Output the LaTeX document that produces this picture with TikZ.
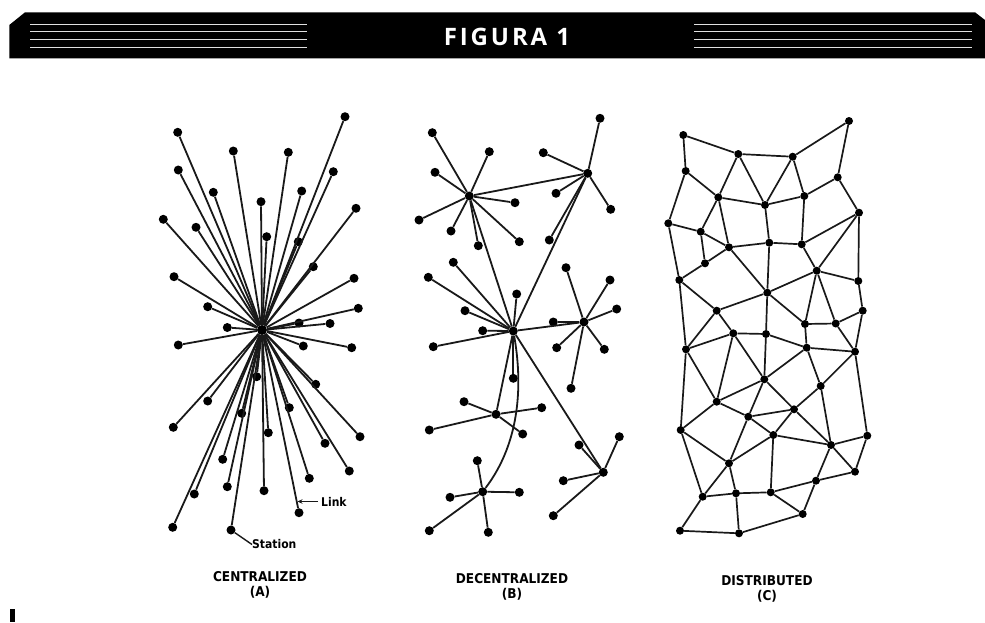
\documentclass[tikz,border=0pt]{standalone}
\usepackage{fontspec}
\usetikzlibrary{arrows.meta}
\newfontfamily\headfont[LetterSpace=12]{Open Sans}
\newfontfamily\labfont[BoldFont={DejaVu Sans Condensed Bold}]{DejaVu Sans Condensed}
\begin{document}
\begin{tikzpicture}[x=1pt,y=-1pt,
  dot/.style={circle,fill=black,inner sep=0pt,minimum size=9pt},
  cdot/.style={circle,fill=black,inner sep=0pt,minimum size=8pt},
  link/.style={draw=black!90,line width=1.8pt},
  rulerline/.style={draw=white!88!black,line width=1.3pt},
  titletext/.style={text=white,font=\headfont\bfseries\fontsize{24}{28}\selectfont},
  captext/.style={font=\labfont\bfseries\fontsize{13.5}{15}\selectfont,inner sep=0pt},
  lbltext/.style={font=\labfont\bfseries\fontsize{12}{14}\selectfont,inner sep=0pt}]
\useasboundingbox (0,0) rectangle (985,622);

% ---------- banner ----------
\fill[black] (9.3,25) -- (25,12.3) -- (975,12.3) -- (985,20) -- (985,58.3) -- (9.3,58.3) -- cycle;
\foreach \y in {24.3,31.7,39.3,47.3} {
  \draw[rulerline] (30,\y) -- (306.5,\y);
  \draw[rulerline] (694,\y) -- (971.7,\y);
}
\node[titletext] (title) at (507,36.5) {FIGURA 1};
\fill[black] (10,609) rectangle (15.3,622);

% ---------- (A) centralized ----------
\node[dot,minimum size=10pt] (ah) at (262,330) {};
\foreach \n/\x/\y in {a1/177.7/132.3, a2/345/116.7, a3/233.3/151, a4/288.3/152.3,
  a5/178.3/170, a6/333.3/171.7, a7/213.3/192.3, a8/301.7/191, a9/261/201.7,
  a10/163.3/219.3, a11/356/208.3, a12/196/227.3, a13/266.7/236.7, a14/298.3/241.7,
  a15/313.3/266.7, a16/174/276.7, a17/354/278.3, a18/207.7/306.7, a19/358.3/308.3,
  a20/299/323, a21/330/323.5, a22/227.3/327.5, a23/178.3/345, a24/303.3/346,
  a25/351.7/347.7, a26/256.7/376.7, a27/315.7/384.3, a28/207.7/401, a29/241.7/413.3,
  a30/289.3/407.7, a31/173.3/427.3, a32/268.3/432.7, a33/360/436.7, a34/325/443.3,
  a35/222.7/459.3, a36/309.3/478.3, a37/349.3/471, a38/227.3/486.7, a39/194.3/494,
  a40/264/490.7, a41/299/512.7, a42/172.7/527.3, a43/231/530}
  \node[dot] (\n) at (\x,\y) {};
\foreach \i in {1,...,43} \draw[link] (ah) -- (a\i);

\coordinate (linktip) at (297.5,501.5);
\node[lbltext,anchor=west] (linklbl) at (321,501.5) {Link};
\draw[link,line width=1.4pt,-{Stealth[length=5pt,width=4.5pt]}] (linklbl.west) ++(-3,0) -- (linktip);
\node[lbltext,anchor=west] (stationlbl) at (252,544.5) {Station};
\draw[link,line width=1.4pt] (a43) -- (stationlbl.west);

% ---------- (B) decentralized ----------
\foreach \n/\x/\y in {bh1/469.3/196, bh2/587.7/173.3, bh3/513.3/331, bh4/584/322,
  bh5/496/414.3, bh6/482.7/491.7, bh7/603.3/472.3}
  \node[dot] (\n) at (\x,\y) {};
\foreach \n/\x/\y/\h in {
  b1a/432.3/132.7/bh1, b1b/489.3/151.7/bh1, b1c/435/172.3/bh1, b1d/515/202.7/bh1,
  b1e/419/220/bh1, b1f/451/231/bh1, b1g/478.3/245.7/bh1, b1h/519.3/241.7/bh1,
  b2a/600/118.3/bh2, b2b/543.3/152.7/bh2, b2c/556/193.3/bh2, b2d/610.7/209.3/bh2,
  b2e/549.3/240/bh2,
  b3a/453.3/262.3/bh3, b3b/428.3/277.3/bh3, b3c/516.7/294/bh3, b3d/465/310.7/bh3,
  b3e/482.7/330.7/bh3, b3f/433.3/346.7/bh3, b3g/513.3/378.3/bh3,
  b4a/566/267.7/bh4, b4b/610/280/bh4, b4c/616.7/309/bh4, b4d/553.3/322/bh4,
  b4e/556.7/347.7/bh4, b4f/604.3/349.3/bh4, b4g/571/388.3/bh4,
  b5a/464/401.7/bh5, b5b/541.7/407.7/bh5, b5c/429.3/430/bh5, b5d/522.7/434/bh5,
  b6a/477.3/460.7/bh6, b6b/450/497.3/bh6, b6c/519.3/492.3/bh6, b6d/429.3/530.7/bh6,
  b6e/488.3/532.3/bh6,
  b7a/579/445/bh7, b7b/619.3/436.7/bh7, b7c/563.3/480.7/bh7, b7d/553.3/515.7/bh7}
{
  \node[dot] (\n) at (\x,\y) {};
  \draw[link] (\h) -- (\n);
}
\foreach \p/\q in {bh1/bh2, bh1/bh3, bh2/bh3, bh3/bh4, bh3/bh5, bh3/bh7}
  \draw[link] (\p) -- (\q);
\draw[link] (bh3) .. controls (522,380) and (522,440) .. (bh6);

% ---------- (C) distributed ----------
\foreach \n/\x/\y in {c1/683.3/135, c2/738.3/154, c3/792.7/156.7, c4/849/121,
  c5/685.7/171, c6/837.7/177.3, c7/718.3/197.3, c8/765/205, c9/804.3/196,
  c10/859/212.7, c11/668.3/223.3, c12/700.7/231.7, c13/729/247.3, c14/769.3/242.7,
  c15/801.7/244.3, c16/705/263.3, c17/816.7/270.7, c18/679.3/280, c19/858.3/281,
  c20/767.3/292.7, c21/716.7/310.7, c22/862.7/310.7, c23/805/324, c24/835.7/323.5,
  c25/733.3/333.3, c26/766/334, c27/686/349.3, c28/806.7/347.7, c29/855/351.7,
  c30/764.3/379.3, c31/820.7/386, c32/716.7/401.7, c33/794/409.3, c34/748.3/416.7,
  c35/680.7/430, c36/773.3/435, c37/867.3/435.7, c38/831/445, c39/729/463.3,
  c40/855/471.7, c41/816/480.7, c42/702.7/496.7, c43/736/493.3, c44/770.7/492.3,
  c45/802.7/514, c46/680/530.7, c47/739/533.3}
  \node[cdot] (\n) at (\x,\y) {};
\foreach \p/\q in {c1/c2, c2/c3, c3/c4, c1/c5, c4/c6, c5/c7, c2/c7, c2/c8, c3/c8,
  c3/c9, c6/c9, c6/c10, c7/c8, c8/c9, c5/c11, c11/c12, c7/c12, c7/c13, c12/c13,
  c8/c14, c9/c15, c13/c14, c14/c15, c15/c10, c10/c17, c10/c19, c12/c16, c16/c13,
  c11/c18, c16/c18, c15/c17, c17/c19, c13/c20, c14/c20, c17/c20, c18/c21, c20/c21,
  c18/c27, c19/c22, c17/c23, c17/c24, c22/c24, c23/c24, c20/c23, c20/c26, c21/c27,
  c21/c25, c25/c26, c26/c28, c23/c28, c24/c29, c22/c29, c28/c29, c27/c25, c27/c32,
  c25/c32, c25/c30, c26/c30, c28/c30, c28/c31, c29/c31, c32/c30, c30/c34, c30/c33,
  c31/c33, c31/c38, c29/c37, c27/c35, c32/c35, c32/c34, c34/c33, c34/c36, c33/c36,
  c33/c38, c36/c38, c38/c37, c38/c40, c37/c40, c38/c41, c41/c40, c41/c45, c44/c41,
  c36/c44, c44/c45, c35/c39, c35/c42, c34/c39, c36/c39, c39/c42, c39/c43, c42/c43,
  c43/c44, c42/c46, c46/c47, c43/c47, c47/c45}
  \draw[link,line width=1.7pt] (\p) -- (\q);

% ---------- captions ----------
\node[captext] (capA) at (260,577) {CENTRALIZED};
\node[captext] (capAb) at (260,592) {(A)};
\node[captext] (capB) at (512,579) {DECENTRALIZED};
\node[captext] (capBb) at (512,594) {(B)};
\node[captext] (capC) at (767,581) {DISTRIBUTED};
\node[captext] (capCb) at (767,596.5) {(C)};
\end{tikzpicture}
\end{document}
